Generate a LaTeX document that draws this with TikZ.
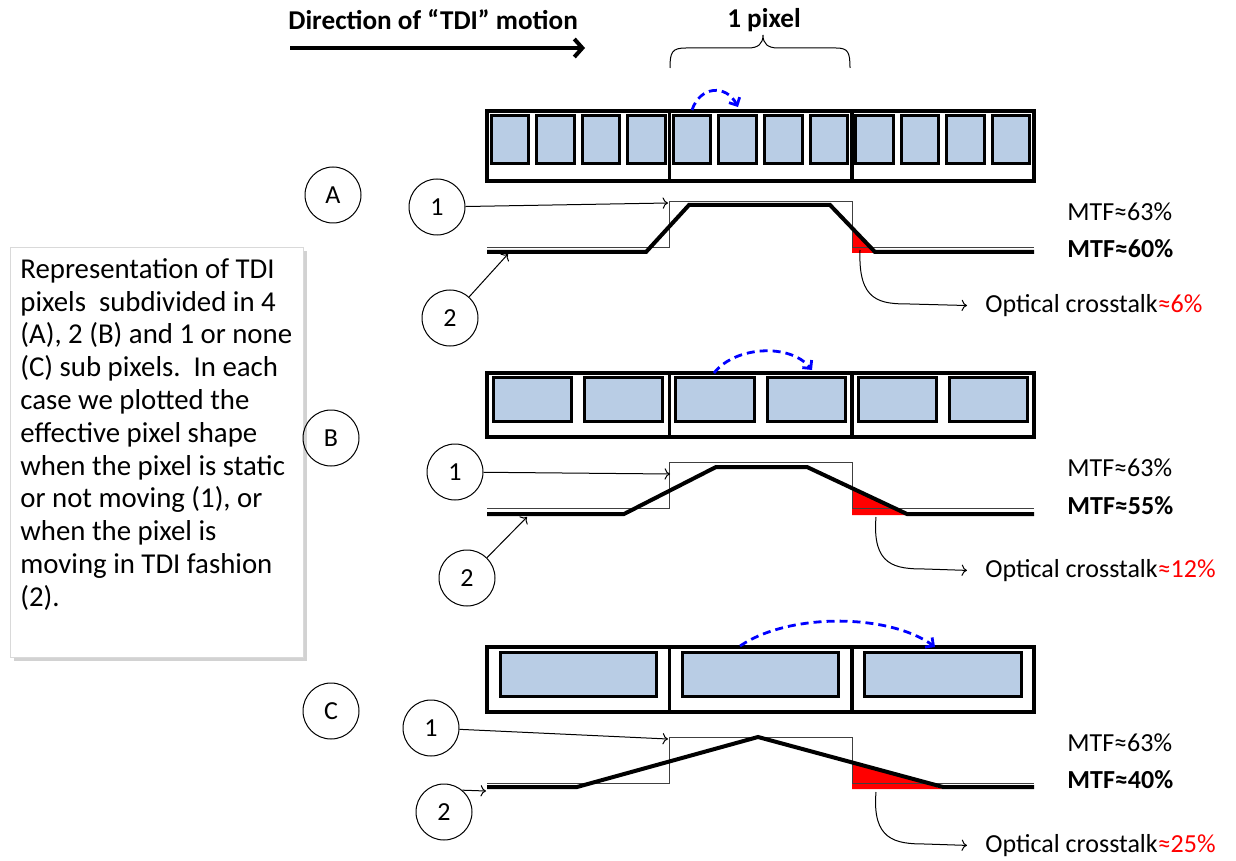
\documentclass[tikz,border=0pt]{standalone}
\usepackage{fontspec}
\setmainfont{Carlito}
\usetikzlibrary{shadows,arrows.meta}
\definecolor{subblue}{HTML}{B9CDE5}

\tikzset{
  circ/.style={draw, circle, line width=0.5pt, minimum size=28pt, inner sep=0pt, font=\fontsize{13}{15}\selectfont},
  strip/.style={draw, line width=1.6pt},
  subpix/.style={draw, line width=1.5pt, fill=subblue},
  static/.style={draw=black!75, line width=0.5pt},
  moving/.style={line width=2pt},
  hop/.style={-{Straight Barb[length=3pt,width=6pt]}, blue, line width=1.4pt, dash pattern=on 4pt off 2.5pt},
  lbl/.style={anchor=west, inner sep=0pt, font=\fontsize{13}{15}\selectfont},
  pointer/.style={->, line width=0.5pt},
}

\begin{document}
\begin{tikzpicture}[x=0.5pt,y=-0.5pt]
\useasboundingbox (0,0) rectangle (1236,861);

\node[anchor=west, inner sep=0pt, font=\fontsize{13.6}{16}\selectfont\bfseries] (dirtxt) at (288,20) {Direction of “TDI” motion};
\coordinate (dirA) at (290,48);
\coordinate (dirB) at (585,48);
\draw[-{Straight Barb[length=4pt,width=9pt]}, line width=2pt] (dirA) -- (dirB);
\node[inner sep=0pt, font=\fontsize{13.6}{16}\selectfont\bfseries] (pixtxt) at (764,20) {1 pixel};
\draw[line width=0.5pt] (670,68) .. controls (670,52) and (672,48) .. (686,48) -- (748,48) .. controls (758,48) and (763,44) .. (763,35) .. controls (763,44) and (768,48) .. (778,48) -- (836,48) .. controls (848,48) and (850,52) .. (850,68);

\node[draw=black!15, line width=0.5pt, fill=white, drop shadow={shadow xshift=1.6pt, shadow yshift=-1.6pt, fill=black!35}, anchor=north west, minimum width=146.5pt, minimum height=205pt] (notebox) at (10,247) {};
\node[anchor=north west, align=left, inner sep=0pt, font=\fontsize{14.4}{16.4}\selectfont] (notetxt) at (20,258) {Representation of TDI\\pixels\ \ subdivided in 4\\(A), 2 (B) and 1 or none\\(C) sub pixels.\ \ In each\\case we plotted the\\effective pixel shape\\when the pixel is static\\or not moving (1), or\\when the pixel is\\moving in TDI fashion\\(2).};

\draw[strip] (487,111) rectangle (1034,181);
\foreach \i in {0,...,11}
  \draw[subpix] ({487+\i*45.58+4},116) rectangle ({487+(\i+1)*45.58-4},164);
\foreach \x in {669.5,852}
  \draw[strip] (\x,111) -- (\x,181);
\draw[hop] (692,110) .. controls (700,86) and (726,84) .. (738,107);
\node[circ] (rowA) at (333,195) {A};
\fill[red] (852,228) -- (876,253) -- (852,253) -- cycle;
\draw[static] (487,248) -- (669.5,248) -- (669.5,202) -- (852,202) -- (852,248) -- (1034,248);
\draw[moving] (487,252) -- (646,252) -- (689,205) -- (830,205) -- (875,252) -- (1034,252);
\node[circ] (oneA) at (437,207) {1};
\node[circ] (twoA) at (450,318) {2};
\coordinate (statA) at (668,203);
\coordinate (movA) at (508,254);
\coordinate (redA) at (860,250);
\draw[pointer] (oneA) -- (statA);
\draw[pointer] (twoA) -- (movA);
\node[lbl] (mtfsA) at (1067,212) {MTF≈63\%};
\node[lbl, font=\fontsize{13}{15}\selectfont\bfseries] (mtfmA) at (1067,249) {MTF≈60\%};
\node[lbl] (ctA) at (985,306) {Optical crosstalk{\color{red}≈6\%}};
\draw[pointer, shorten >=9pt] (redA) .. controls (858,302) and (880,304) .. (910,304) -- (ctA.west);

\draw[strip] (487,373) rectangle (1034,437);
\foreach \i in {0,...,5}
  \draw[subpix] ({487+\i*91.17+6.5},377) rectangle ({487+(\i+1)*91.17-6.5},421);
\foreach \x in {669.5,852}
  \draw[strip] (\x,373) -- (\x,437);
\draw[hop] (714,373) .. controls (735,346) and (790,343) .. (812,370);
\node[circ] (rowB) at (331,438) {B};
\fill[red] (852,488) -- (906,515) -- (852,515) -- cycle;
\draw[static] (487,508) -- (669.5,508) -- (669.5,462) -- (852,462) -- (852,508) -- (1034,508);
\draw[moving] (487,514) -- (624,514) -- (716,467) -- (807,467) -- (907,514) -- (1034,514);
\node[circ] (oneB) at (455,472) {1};
\node[circ] (twoB) at (467,578) {2};
\coordinate (statB) at (670,474);
\coordinate (movB) at (527,517);
\coordinate (redB) at (876,517);
\draw[pointer] (oneB) -- (statB);
\draw[pointer] (twoB) -- (movB);
\node[lbl] (mtfsB) at (1067,468) {MTF≈63\%};
\node[lbl, font=\fontsize{13}{15}\selectfont\bfseries] (mtfmB) at (1067,506) {MTF≈55\%};
\node[lbl] (ctB) at (985,571) {Optical crosstalk{\color{red}≈12\%}};
\draw[pointer, shorten >=9pt] (redB) .. controls (872,566) and (895,569) .. (925,569) -- (ctB.west);

\draw[strip] (487,647) rectangle (1034,712);
\foreach \i in {0,...,2}
  \draw[subpix] ({487+\i*182.33+13},652) rectangle ({487+(\i+1)*182.33-13},696);
\foreach \x in {669.5,852}
  \draw[strip] (\x,647) -- (\x,712);
\draw[hop] (740,646) .. controls (790,612) and (890,614) .. (935,647);
\node[circ] (rowC) at (331,711) {C};
\fill[red] (852,763) -- (943,789) -- (852,789) -- cycle;
\draw[static] (487,783) -- (669.5,783) -- (669.5,737) -- (852,737) -- (852,783) -- (1034,783);
\draw[moving] (487,787) -- (577,787) -- (758,737) -- (943,787) -- (1034,787);
\node[circ] (oneC) at (431,728) {1};
\node[circ] (twoC) at (444,812) {2};
\coordinate (statC) at (668,739);
\coordinate (movC) at (486,791);
\coordinate (redC) at (876,792);
\draw[pointer] (oneC) -- (statC);
\draw[pointer] (twoC.50) -- (movC);
\node[lbl] (mtfsC) at (1067,743) {MTF≈63\%};
\node[lbl, font=\fontsize{13}{15}\selectfont\bfseries] (mtfmC) at (1067,780) {MTF≈40\%};
\node[lbl] (ctC) at (985,846) {Optical crosstalk{\color{red}≈25\%}};
\draw[pointer, shorten >=9pt] (redC) .. controls (872,840) and (895,844) .. (925,844) -- (ctC.west);
\end{tikzpicture}
\end{document}
